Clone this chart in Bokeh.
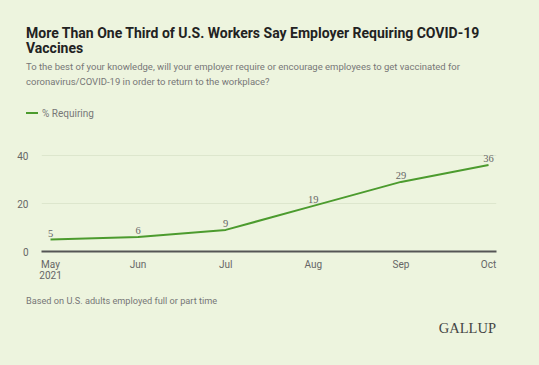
from bokeh.plotting import figure
from bokeh.models import Range1d, ColumnDataSource, FixedTicker, Div
from bokeh.layouts import column
from bokeh.embed import file_html
from bokeh.resources import INLINE

months = ["May", "Jun", "Jul", "Aug", "Sep", "Oct"]
tick_labels = ["May\n2021", "Jun", "Jul", "Aug", "Sep", "Oct"]
requiring = [5, 6, 9, 19, 29, 36]
y_ticks = [0, 20, 40]

title_lines = ["More Than One Third of U.S. Workers Say Employer Requiring COVID-19", "Vaccines"]
subtitle_lines = ["To the best of your knowledge, will your employer require or encourage employees to get vaccinated for",
                  "coronavirus/COVID-19 in order to return to the workplace?"]
legend_label = "% Requiring"
footnote = "Based on U.S. adults employed full or part time"
source_label = "GALLUP"

BG = "#EDF4DE"
GREEN = "#4C9B2E"
FONT = "Roboto"

xs = list(range(len(months)))
src = ColumnDataSource(dict(x=xs, y=requiring, lbl=[str(v) for v in requiring]))

def txt(text, left, top, size, color, weight="normal", font=FONT, right=None):
    pos = f"right:{right}px;" if right is not None else f"left:{left}px;"
    return (f'<div style="position:absolute;{pos}top:{top}px;font-family:\'{font}\';font-size:{size}px;'
            f'font-weight:{weight};color:{color};white-space:nowrap;line-height:normal;">{text}</div>')

header_html = (
    f'<div style="position:relative;width:539px;height:133px;background:{BG};">'
    + txt(title_lines[0], 26, 24.5, 14, "#222222", "bold")
    + txt(title_lines[1], 26, 39.5, 14, "#222222", "bold")
    + txt(subtitle_lines[0], 26, 60.7, 9.5, "#777777")
    + txt(subtitle_lines[1], 26, 75.7, 9.5, "#777777")
    + f'<div style="position:absolute;left:26px;top:112px;width:12px;height:2px;background:{GREEN};"></div>'
    + txt(legend_label, 42, 108.2, 10, "#777777")
    + '</div>'
)
header = Div(text=header_html, width=539, height=133, margin=0, styles={"background-color": BG})

p = figure(width=539, height=155, output_backend="svg", toolbar_location=None, title=None,
           x_range=Range1d(-0.103, 5.091), y_range=Range1d(0, 45),
           min_border_left=41, min_border_right=43, min_border_top=10, min_border_bottom=37)
p.background_fill_color = BG
p.border_fill_color = BG
p.outline_line_color = None

p.line("x", "y", source=src, line_color=GREEN, line_width=2)
p.text("x", "y", text="lbl", source=src, text_align="center", text_baseline="bottom",
       y_offset=-3, text_font_size="10.5px", text_color="#666666", text_font=FONT)

p.xgrid.grid_line_color = None
p.ygrid.grid_line_color = "#DDE6CD"
p.ygrid.ticker = FixedTicker(ticks=y_ticks)
p.yaxis.ticker = FixedTicker(ticks=y_ticks)
p.yaxis.axis_line_color = None
p.yaxis.major_tick_line_color = None
p.yaxis.minor_tick_line_color = None
p.yaxis.major_label_text_font_size = "10px"
p.yaxis.major_label_text_color = "#666666"
p.yaxis.major_label_text_font = FONT
p.yaxis.major_label_standoff = 7

p.xaxis.ticker = FixedTicker(ticks=xs)
p.xaxis.major_label_overrides = {i: t for i, t in zip(xs, tick_labels)}
p.xaxis.axis_line_color = "#555555"
p.xaxis.axis_line_width = 2
p.xaxis.major_tick_line_color = None
p.xaxis.minor_tick_line_color = None
p.xaxis.major_label_text_font_size = "10px"
p.xaxis.major_label_text_color = "#666666"
p.xaxis.major_label_text_font = FONT
p.xaxis.major_label_text_line_height = 1.0
p.xaxis.major_label_standoff = 1

footer_html = (
    f'<div style="position:relative;width:539px;height:77px;background:{BG};">'
    + txt(footnote, 26, 6.5, 9.2, "#777777")
    + txt(source_label, 0, 32, 14.5, "#444444", font="Liberation Serif", right=43)
    + '</div>'
)
footer = Div(text=footer_html, width=539, height=77, margin=0, styles={"background-color": BG})

layout = column(header, p, footer, spacing=0, margin=0, styles={"background-color": BG})
open("out.html", "w").write(file_html(layout, INLINE))
